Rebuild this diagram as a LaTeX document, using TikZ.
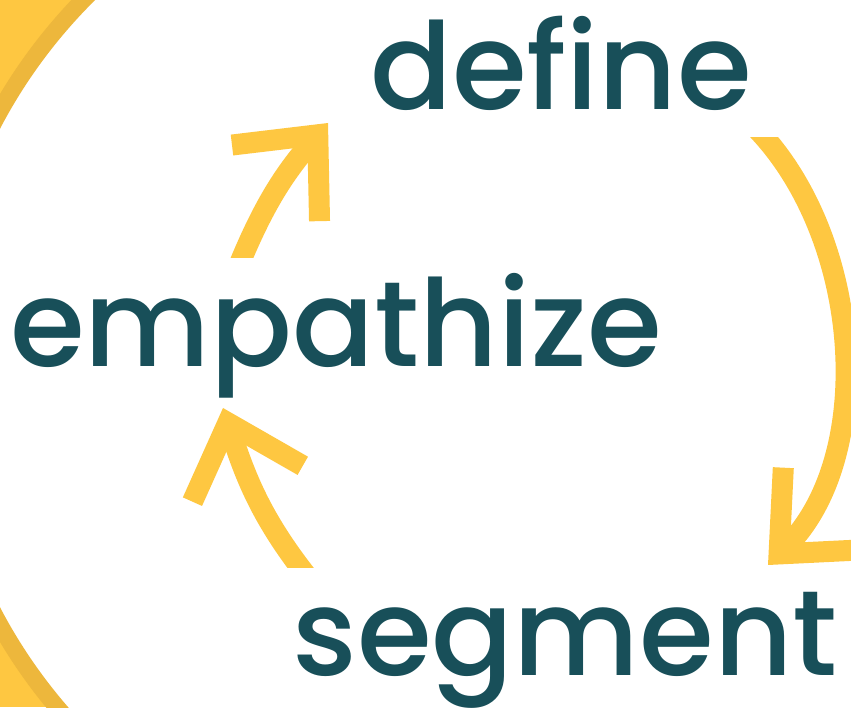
\documentclass[tikz,border=0pt]{standalone}
\usepackage{fontspec}
\setmainfont{Poppins}[UprightFont=* Medium]
\usetikzlibrary{arrows.meta}
\definecolor{stagetext}{HTML}{184F59}
\definecolor{loopyellow}{HTML}{FEC741}
\definecolor{ringyellow}{HTML}{EDB73C}

\tikzset{
  stage/.style={anchor=base, text=stagetext, fill=white, inner ysep=0pt,
    text height=109pt, text depth=27pt,
    font=\fontsize{121pt}{127pt}\selectfont},
  cycle arrow/.style={draw=loopyellow, line width=21pt,
    -{Straight Barb[sharp, length=64pt, width=116pt]}}
}

\begin{document}
\begin{tikzpicture}[x=1pt, y=1pt]
        \useasboundingbox (0, 0) rectangle (851, 707);

        % yellow disc on the left
        \begin{scope}
            \clip (0, 0) rectangle (300, 707);
            \fill[loopyellow] (0, 0) rectangle (300, 707);
            \draw[ringyellow, line width=17pt, fill=white] (459, 339) circle[radius=526];
        \end{scope}

        \coordinate (e2d-start) at (237, 437);
        \coordinate (e2d-end) at (328, 584);
        \coordinate (d2s-start) at (753, 582);
        \coordinate (d2s-end) at (768, 142);
        \coordinate (s2e-start) at (306, 132);
        \coordinate (s2e-end) at (223, 299);

        \draw[cycle arrow] (e2d-start) to[out=68, in=229] (e2d-end);
        \draw[cycle arrow] (d2s-start) to[out=-45, in=45, looseness=0.9] (d2s-end);
        \draw[cycle arrow] (s2e-start) to[out=128, in=288] (s2e-end);

        \node[stage, inner xsep=30pt] (define) at (561, 597) {define};
        \node[stage, inner xsep=10pt] (empathize) at (336, 340) {empathize};
        \node[stage, inner xsep=20pt, text height=107pt] (segment) at (565, 32) {segment};
    \end{tikzpicture}
\end{document}
